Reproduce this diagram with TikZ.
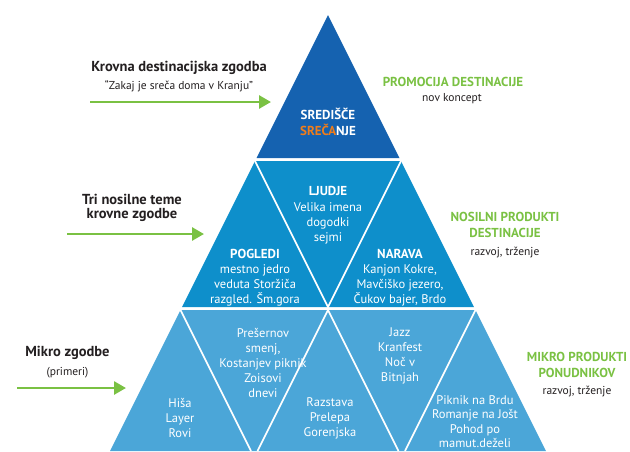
\documentclass[tikz,border=0pt]{standalone}
\usepackage{fontspec}
\setmainfont{PT Sans}
\usetikzlibrary{arrows.meta}
\definecolor{topblue}{HTML}{1562B0}
\definecolor{midblue}{HTML}{0E8FCB}
\definecolor{lowblue}{HTML}{4BA6D8}
\definecolor{lgreen}{HTML}{7AC143}
\definecolor{sorange}{HTML}{F07D1A}
\definecolor{txtdark}{HTML}{231F20}
\begin{document}
\begin{tikzpicture}[x=1pt,y=-1pt,
  divider/.style={draw=white, line width=1.6pt},
  inhead/.style={text=white, font=\bfseries\fontsize{13}{15}\selectfont, inner sep=0},
  intext/.style={text=white, font=\fontsize{12.5}{15}\selectfont, align=center, inner sep=0},
  lhead/.style={text=txtdark, font=\bfseries\fontsize{14.5}{14}\selectfont, align=center, inner sep=0},
  lsub/.style={text=txtdark, font=\fontsize{11.5}{12}\selectfont, inner sep=0},
  rhead/.style={text=lgreen, font=\bfseries\fontsize{13}{16}\selectfont, align=center, inner sep=0},
  rsub/.style={text=txtdark, font=\fontsize{11.5}{12}\selectfont, inner sep=0},
  garrow/.style={draw=lgreen, line width=2.7pt, -{Triangle[length=12pt,width=13pt]}}
]
\useasboundingbox (0,0) rectangle (630,451);
% pyramid bands
\fill[topblue] (328,15) -- (399.5,158) -- (256.5,158) -- cycle;
\fill[midblue] (255,161) -- (401,161) -- (474,307) -- (182,307) -- cycle;
\fill[lowblue] (180.5,310) -- (475.5,310) -- (546,451) -- (110,451) -- cycle;
% internal dividers
\draw[divider] (255,161) -- (328,307) -- (401,161);
\draw[divider] (180.5,310) -- (251,451);
\draw[divider] (328,310) -- (257.5,451);
\draw[divider] (328,310) -- (398.5,451);
\draw[divider] (475.5,310) -- (405,451);
% top
\node[inhead] (sredisce) at (328,114) {SREDIŠČE};
\node[inhead] (srecanje) at (328,130) {\textcolor{sorange}{SREČA}NJE};
% middle band
\node[inhead] (ljudje) at (328,191) {LJUDJE};
\node[intext] (ljudjet) at (328,223) {Velika imena\\dogodki\\sejmi};
\node[inhead] (pogledi) at (255,254) {POGLEDI};
\node[intext] (pogledit) at (255,285.5) {mestno jedro\\veduta Storžiča\\razgled. Šm.gora};
\node[inhead] (narava) at (400,254) {NARAVA};
\node[intext] (naravat) at (400,285.5) {Kanjon Kokre,\\Mavčiško jezero,\\Čukov bajer, Brdo};
% bottom band
\node[intext] (hisa) at (180,417.5) {Hiša\\Layer\\Rovi};
\node[intext] (presernov) at (263,362.5) {Prešernov\\smenj,\\Kostanjev piknik\\Zoisovi\\dnevi};
\node[intext] (razstava) at (330,418.5) {Razstava\\Prelepa\\Gorenjska};
\node[intext] (jazz) at (400,355.5) {Jazz\\Kranfest\\Noč v\\Bitnjah};
\node[intext, font=\fontsize{12.5}{14.4}\selectfont] (piknik) at (475,421.5) {Piknik na Brdu\\Romanje na Jošt\\Pohod po\\mamut.deželi};
% left labels
\node[lhead] (krovna) at (179,68) {Krovna destinacijska zgodba};
\node[lsub] (zakaj) at (179,86) {“Zakaj je sreča doma v Kranju”};
\coordinate (a1s) at (90,102);
\coordinate (a1e) at (271,102);
\draw[garrow] (a1s) -- (a1e);
\node[lhead] (tri) at (132,207.5) {Tri nosilne teme\\krovne zgodbe};
\coordinate (a2s) at (67,234);
\coordinate (a2e) at (204,234);
\draw[garrow] (a2s) -- (a2e);
\node[lhead] (mikro) at (67.5,353) {Mikro zgodbe};
\node[lsub] (primeri) at (67.5,373) {(primeri)};
\coordinate (a3s) at (17,388);
\coordinate (a3e) at (126,388);
\draw[garrow] (a3s) -- (a3e);
% right labels
\node[rhead] (promocija) at (453,82) {PROMOCIJA DESTINACIJE};
\node[rsub] (nov) at (452,99) {nov koncept};
\node[rhead] (nosilni) at (505,225) {NOSILNI PRODUKTI\\DESTINACIJE};
\node[rsub] (razvoj1) at (505,253) {razvoj, trženje};
\node[rhead] (mikrop) at (577,365) {MIKRO PRODUKTI\\PONUDNIKOV};
\node[rsub] (razvoj2) at (577,392) {razvoj, trženje};
\end{tikzpicture}
\end{document}
